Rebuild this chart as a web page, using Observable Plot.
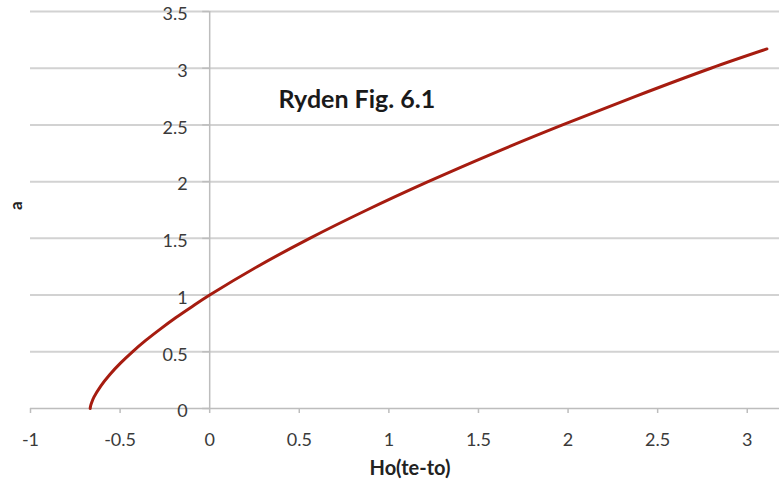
<!DOCTYPE html>
<html>
<head>
<meta charset="utf-8">
<script src="https://cdn.jsdelivr.net/npm/d3@7"></script>
<script src="https://cdn.jsdelivr.net/npm/@observablehq/plot@0.6"></script>
<style>
  html, body { margin: 0; padding: 0; background: #fff; }
  #chart svg { display: block; }
</style>
</head>
<body>
<div id="chart"></div>
<script>
// Curve: H0(te - t0) vs scale factor a
const xValues = [-0.667, -0.665, -0.659, -0.646, -0.607, -0.557, -0.498, -0.431, -0.357, -0.276, -0.190, -0.097, 0.0, 0.265, 0.558, 0.877, 1.219, 1.583, 1.969, 2.373, 2.797, 3.110];
const aValues = [0.0, 0.02, 0.05, 0.1, 0.2, 0.3, 0.4, 0.5, 0.6, 0.7, 0.8, 0.9, 1.0, 1.25, 1.5, 1.75, 2.0, 2.25, 2.5, 2.75, 3.0, 3.17];

const xTicks = [-1, -0.5, 0, 0.5, 1, 1.5, 2, 2.5, 3];
const yTicks = [0, 0.5, 1, 1.5, 2, 2.5, 3, 3.5];

const annotationText = ["Ryden Fig. 6.1"];
const annotationX = [0.384];
const annotationY = [2.72];

const xLabel = "Ho(te-to)";
const yLabel = "a";

const curve = xValues.map((x, i) => ({x, a: aValues[i]}));
const notes = annotationText.map((t, i) => ({t, x: annotationX[i], y: annotationY[i]}));

const font = "Lato, 'Open Sans', sans-serif";

const chart = Plot.plot({
  width: 779,
  height: 486,
  marginLeft: 30,
  marginRight: 0,
  marginTop: 11,
  marginBottom: 78,
  style: {fontFamily: font, background: "#fff", color: "#333"},
  x: {domain: [-1, 3.18], axis: null},
  y: {domain: [0, 3.5], axis: null},
  marks: [
    // horizontal gridlines
    Plot.ruleY(yTicks.filter(d => d !== 0), {stroke: "#d2d2d2", strokeWidth: 2}),
    // x axis line at a = 0
    Plot.ruleY([0], {stroke: "#bdbdbd", strokeWidth: 1.5}),
    // y axis line at x = 0
    Plot.ruleX([0], {y1: 0, y2: 3.5, stroke: "#bdbdbd", strokeWidth: 1.5}),
    // y tick marks
    Plot.ruleY(yTicks, {x1: 0, x2: 0, insetLeft: -7, stroke: "#bdbdbd", strokeWidth: 1.5}),
    // x tick marks
    Plot.ruleX(xTicks, {y1: 0, y2: 0, insetBottom: -5, stroke: "#bdbdbd", strokeWidth: 1.5}),
    // y tick labels
    Plot.text(yTicks, {x: 0, y: d => d, text: d => String(d), textAnchor: "end", dx: -22, dy: 3, fontSize: 18, fill: "#3a3a3a"}),
    // x tick labels
    Plot.text(xTicks, {x: d => d, y: 0, text: d => String(d), dy: 32, fontSize: 18, fill: "#3a3a3a"}),
    // curve
    Plot.line(curve, {x: "x", y: "a", stroke: "#a61c10", strokeWidth: 3, curve: "catmull-rom"}),
    // annotation
    Plot.text(notes, {x: "x", y: "y", text: "t", textAnchor: "start", fontSize: 25, fontWeight: "bold", fill: "#1a1a1a"}),
    // axis titles
    Plot.text([xLabel], {frameAnchor: "bottom", text: d => d, dx: 5, dy: 66, fontSize: 20, fontWeight: "bold", fill: "#222"}),
    Plot.text([yLabel], {frameAnchor: "left", text: d => d, dx: -14, rotate: -90, fontSize: 17, fontWeight: "bold", fill: "#222"})
  ]
});

document.getElementById("chart").appendChild(chart);
</script>
</body>
</html>
